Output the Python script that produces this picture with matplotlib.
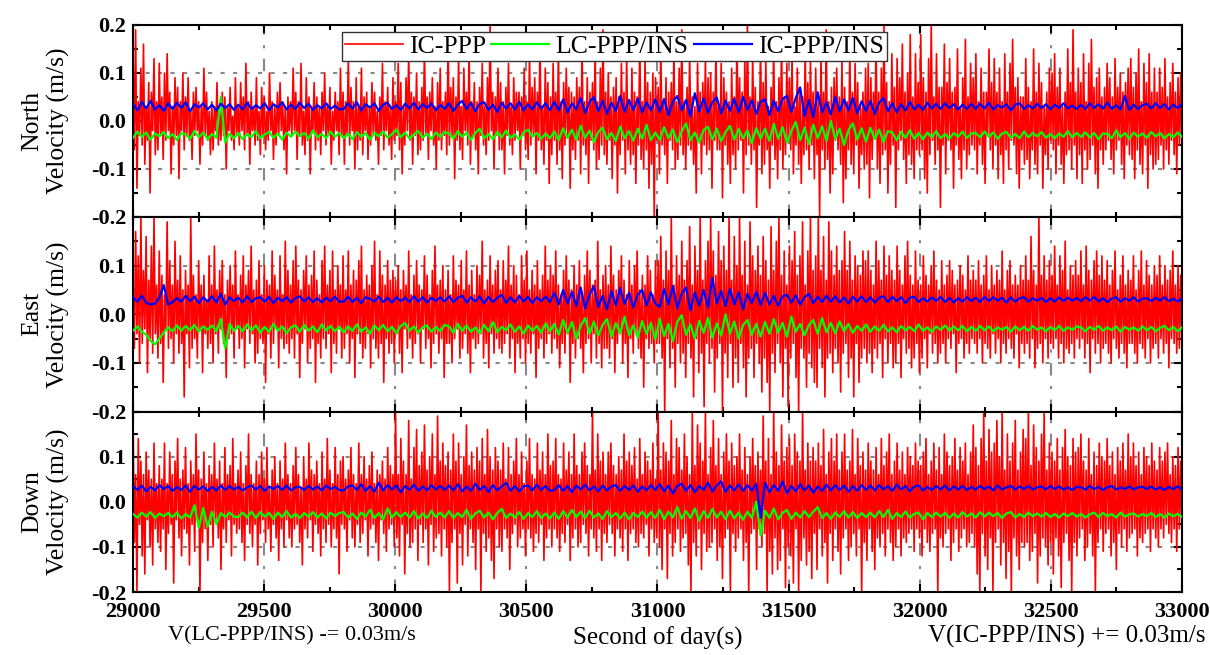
import numpy as np
import matplotlib
matplotlib.use("Agg")
import matplotlib.pyplot as plt
from matplotlib.ticker import MultipleLocator

plt.rcParams['font.family'] = ['Liberation Serif', 'DejaVu Serif']

# Time span (second of day)
T_START, T_END = 29000, 33000

# IC-PPP velocity error (cm/s), 200 s per row
north_ic = [
    15, -6, 19, -14, 4, -3, 11, -5, 16, -9, 3, -4, 8, -15, 6, -2, 13, -7, 4, -6, 12, -3, 5, -8, 10, -4, 14, -2, 6, -11, 3, -5, 9, -3, 7, -12, 4, -2, 10, -6,
    5, -3, 9, -4, 2, -8, 6, -3, 7, -2, 4, -9, 3, -5, 11, -3, 6, -4, 2, -7, 4, -6, 3, -2, 8, -5, 2, -4, 6, -3, 5, -10, 3, -2, 7, -4, 1, -6, 9, -3,
    3, -5, 8, -2, 5, -6, 12, -3, 4, -9, 6, -2, 3, -5, 9, -4, 2, -7, 7, -3, 5, -6, 2, -4, 10, -2, 4, -8, 3, -5, 6, -3, 8, -2, 4, -6, 3, -11, 5, -2,
    4, -3, 11, -2, 6, -8, 4, -3, 12, -5, 2, -7, 9, -4, 5, -11, 3, -2, 8, -6, 5, -4, 3, -7, 6, -2, 10, -5, 3, -3, 7, -9, 2, -4, 6, -2, 4, -7, 11, -3,
    6, -9, 4, -3, 13, -5, 7, -2, 4, -10, 9, -6, 3, -4, 11, -7, 5, -2, 6, -8, 3, -5, 8, -3, 6, -4, 2, -9, 5, -3, 12, -6, 4, -2, 7, -5, 3, -8, 9, -4,
    4, -3, 12, -6, 8, -11, 3, -5, 9, -2, 14, -4, 6, -9, 5, -3, 10, -7, 4, -6, 7, -4, 15, -3, 5, -8, 6, -2, 9, -5, 3, -10, 8, -4, 11, -6, 4, -3, 6, -7,
    16, -5, 7, -3, 9, -12, 5, -4, 13, -6, 3, -8, 11, -2, 6, -5, 15, -9, 4, -3, 8, -6, 4, -11, 7, -3, 12, -5, 3, -7, 9, -4, 20, -2, 6, -10, 5, -3, 11, -6,
    8, -6, 4, -11, 7, -3, 12, -5, 3, -7, 9, -4, 6, -2, 6, -10, 5, -3, 11, -6, 4, -8, 14, -5, 7, -3, 9, -11, 6, -4, 17, -6, 3, -9, 11, -4, 8, -13, 5, -7,
    12, -4, 6, -9, 15, -6, 4, -12, 8, -5, 11, -3, 7, -14, 6, -6, 5, -8, 9, -4, 7, -11, 16, -5, 4, -7, 9, -13, 6, -4, 8, -6, 15, -10, 4, -8, 11, -5, 19, -7,
    6, -9, 10, -4, 5, -12, 7, -5, 9, -15, 5, -7, 12, -4, 6, -11, 14, -6, 4, -9, 11, -7, 6, -13, 5, -5, 17, -8, 4, -10, 13, -6, 8, -14, 6, -9, 10, -20, 9, -4,
    7, -11, 16, -5, 4, -7, 9, -13, 6, -4, 8, -6, 15, -10, 4, -8, 11, -5, 19, -7, 4, -10, 7, -5, 14, -6, 5, -9, 3, -15, 12, -4, 6, -11, 8, -5, 13, -7, 9, -6,
    10, -14, 6, -4, 15, -6, 3, -6, 12, -16, 9, -5, 6, -9, 4, -13, 11, -7, 5, -10, 18, -6, 9, -4, 6, -15, 13, -7, 20, -5, 5, -9, 14, -6, 7, -18, 4, -5, 16, -11,
    8, -9, 13, -6, 3, -14, 7, -5, 15, -8, 4, -12, 9, -6, 17, -10, 5, -7, 12, -4, 9, -6, 14, -11, 3, -5, 11, -9, 6, -13, 5, -7, 15, -6, 8, -10, 13, -5, 6, -12,
    11, -7, 5, -20, 14, -6, 6, -10, 19, -8, 4, -15, 7, -11, 9, -4, 11, -6, 5, -9, 13, -17, 7, -12, 4, -6, 15, -9, 6, -11, 12, -5, 8, -14, 3, -7, 6, -10, 11, -9,
    12, -16, 9, -8, 6, -3, 17, -10, 6, -13, 11, -7, 20, -6, 8, -15, 4, -9, 14, -5, 7, -18, 13, -6, 9, -4, 16, -8, 6, -13, 10, -7, 18, -9, 5, -12, 14, -6, 8, -7,
    18, -6, 9, -12, 6, -15, 13, -7, 20, -4, 5, -9, 14, -6, 7, -18, 7, -5, 16, -11, 8, -4, 13, -6, 6, -14, 7, -5, 15, -8, 3, -12, 9, -6, 17, -10, 5, -7, 12, -5,
    9, -6, 14, -11, 4, -5, 11, -9, 6, -13, 6, -3, 15, -6, 8, -10, 13, -5, 6, -12, 11, -7, 4, -13, 14, -6, 6, -10, 12, -4, 17, -5, 7, -11, 9, -14, 5, -6, 5, -9,
    13, -8, 7, -12, 4, -6, 15, -9, 6, -11, 12, -5, 8, -14, 3, -7, 6, -10, 11, -4, 10, -6, 14, -11, 7, -5, 11, -9, 3, -13, 6, -7, 15, -6, 8, -10, 19, -5, 6, -12,
    11, -7, 8, -13, 14, -6, 4, -10, 12, -8, 17, -5, 7, -11, 9, -14, 11, -6, 5, -9, 7, -6, 12, -4, 9, -8, 5, -11, 13, -6, 7, -4, 10, -9, 6, -12, 8, -5, 11, -7,
    13, -8, 7, -12, 10, -6, 15, -9, 4, -11, 12, -5, 8, -14, 14, -7, 6, -10, 11, -9, 6, -8, 11, -5, 7, -10, 13, -6, 5, -9, 8, -4, 12, -7, 6, -11, 9, -5, 10, -7,
]
east_ic = [
    5, -7, 17, -4, 12, -10, 20, -6, 9, -3, 16, -12, 7, -5, 14, -8, 20, -4, 6, -9, 13, -6, 8, -14, 4, -3, 19, -7, 11, -5, 6, -10, 15, -4, 7, -8, 12, -6, 5, -17,
    9, -4, 6, -11, 20, -7, 8, -5, 4, -9, 11, -3, 6, -12, 8, -4, 3, -7, 12, -6, 6, -10, 14, -4, 5, -8, 9, -3, 11, -6, 4, -13, 7, -5, 10, -4, 6, -9, 13, -3,
    4, -7, 8, -5, 12, -11, 6, -3, 9, -6, 14, -4, 5, -10, 7, -8, 11, -5, 4, -6, 10, -14, 7, -4, 6, -9, 13, -6, 8, -3, 5, -11, 12, -5, 4, -7, 15, -6, 9, -8,
    6, -5, 11, -9, 14, -4, 7, -13, 5, -6, 9, -3, 12, -10, 6, -7, 8, -5, 13, -14, 7, -6, 4, -9, 11, -5, 14, -7, 6, -4, 9, -12, 13, -6, 5, -8, 10, -3, 6, -9,
    12, -7, 5, -4, 13, -10, 6, -5, 9, -13, 7, -4, 11, -6, 14, -9, 5, -7, 8, -4, 6, -11, 10, -5, 15, -7, 4, -9, 13, -6, 8, -14, 6, -5, 11, -8, 7, -6, 9, -10,
    7, -4, 10, -8, 5, -12, 9, -3, 6, -7, 13, -5, 4, -9, 8, -6, 11, -4, 6, -10, 5, -3, 12, -7, 8, -5, 4, -11, 9, -6, 14, -4, 6, -8, 7, -5, 10, -13, 5, -6,
    9, -6, 4, -10, 12, -5, 7, -3, 6, -9, 11, -7, 5, -4, 13, -8, 6, -12, 9, -5, 4, -7, 10, -6, 8, -4, 15, -9, 5, -6, 7, -11, 12, -4, 6, -8, 9, -5, 11, -7,
    5, -8, 11, -6, 7, -4, 14, -9, 6, -5, 10, -12, 8, -6, 4, -9, 12, -5, 7, -10, 13, -6, 5, -8, 9, -4, 6, -13, 11, -7, 5, -5, 8, -9, 14, -6, 7, -4, 10, -8,
    8, -5, 13, -7, 6, -11, 4, -6, 9, -8, 12, -4, 7, -14, 5, -6, 10, -9, 6, -5, 11, -7, 4, -12, 8, -6, 13, -5, 9, -10, 6, -4, 7, -9, 15, -6, 5, -11, 8, -7,
    10, -7, 6, -9, 14, -5, 8, -12, 5, -6, 9, -4, 12, -10, 7, -6, 4, -13, 11, -5, 6, -8, 10, -4, 13, -7, 5, -9, 8, -15, 6, -5, 12, -7, 9, -6, 4, -10, 11, -6,
    11, -6, 16, -9, 7, -20, 13, -5, 9, -11, 20, -7, 6, -15, 12, -6, 8, -10, 15, -8, 7, -13, 11, -6, 18, -9, 6, -17, 14, -5, 9, -12, 20, -8, 7, -19, 11, -6, 15, -10,
    20, -7, 13, -16, 8, -9, 17, -6, 11, -20, 14, -8, 9, -13, 20, -6, 7, -15, 16, -9, 10, -14, 20, -6, 8, -11, 15, -17, 6, -9, 19, -7, 12, -13, 9, -6, 14, -10, 8, -16,
    16, -9, 11, -14, 7, -20, 18, -8, 9, -12, 15, -6, 20, -10, 8, -17, 13, -7, 6, -19, 14, -9, 11, -6, 17, -13, 8, -20, 12, -7, 19, -9, 6, -15, 13, -8, 20, -11, 9, -14,
    12, -15, 20, -7, 9, -11, 16, -17, 7, -9, 19, -8, 13, -12, 8, -7, 14, -10, 9, -16, 11, -8, 17, -6, 9, -13, 15, -9, 7, -17, 12, -6, 10, -14, 8, -9, 13, -7, 11, -10,
    13, -8, 9, -12, 6, -7, 15, -9, 11, -6, 7, -13, 14, -5, 8, -10, 12, -6, 9, -11, 7, -10, 14, -6, 9, -13, 6, -5, 12, -8, 15, -7, 8, -11, 6, -9, 13, -6, 7, -12,
    6, -9, 12, -5, 8, -11, 6, -4, 10, -8, 13, -6, 7, -10, 5, -8, 11, -6, 6, -10, 8, -5, 11, -7, 9, -4, 6, -12, 7, -6, 10, -5, 8, -9, 5, -6, 12, -8, 7, -5,
    9, -6, 7, -8, 11, -5, 6, -10, 8, -6, 12, -7, 5, -9, 10, -4, 6, -8, 9, -5, 7, -10, 13, -6, 5, -8, 9, -5, 11, -7, 6, -9, 8, -4, 6, -11, 10, -6, 7, -8,
    12, -6, 7, -9, 16, -5, 9, -11, 6, -7, 20, -6, 8, -10, 12, -5, 7, -9, 11, -6, 8, -7, 14, -5, 6, -9, 12, -6, 9, -10, 15, -7, 5, -8, 10, -6, 8, -9, 11, -5,
    8, -7, 13, -5, 6, -9, 14, -6, 9, -12, 7, -5, 11, -8, 13, -6, 8, -10, 12, -7, 7, -6, 11, -8, 6, -10, 9, -5, 13, -7, 5, -9, 8, -6, 12, -8, 6, -11, 9, -6,
    7, -6, 12, -8, 5, -10, 9, -6, 13, -7, 6, -9, 11, -5, 8, -10, 6, -7, 10, -6, 8, -9, 12, -5, 6, -8, 10, -6, 7, -11, 9, -5, 13, -6, 6, -8, 10, -7, 8, -6,
]
down_ic = [
    20, -9, 6, -20, 14, -5, 9, -12, 6, -16, 11, -4, 7, -10, 5, -14, 13, -6, 4, -9, 8, -11, 5, -6, 13, -15, 4, -7, 11, -5, 6, -18, 9, -4, 14, -8, 5, -12, 7, -6,
    12, -7, 4, -14, 9, -5, 6, -11, 15, -4, 7, -20, 5, -9, 11, -6, 4, -13, 8, -5, 6, -10, 13, -4, 5, -8, 9, -15, 4, -6, 12, -9, 6, -4, 8, -12, 14, -5, 4, -7,
    7, -6, 11, -9, 4, -13, 8, -5, 15, -7, 6, -10, 4, -5, 9, -14, 6, -7, 11, -4, 5, -9, 12, -6, 3, -11, 7, -5, 10, -8, 4, -13, 9, -6, 5, -10, 13, -4, 6, -8,
    4, -10, 8, -6, 12, -5, 6, -9, 3, -14, 10, -6, 5, -8, 13, -4, 7, -11, 6, -5, 9, -7, 4, -12, 11, -6, 5, -9, 14, -5, 7, -10, 4, -6, 12, -8, 6, -16, 9, -5,
    10, -6, 5, -11, 7, -4, 12, -8, 6, -10, 4, -5, 13, -9, 6, -7, 10, -4, 5, -12, 8, -6, 11, -5, 4, -9, 7, -13, 6, -4, 9, -7, 5, -11, 12, -6, 8, -5, 6, -10,
    20, -8, 6, -12, 14, -5, 9, -16, 6, -7, 18, -10, 5, -9, 12, -6, 16, -13, 8, -5, 11, -9, 17, -6, 7, -14, 10, -5, 15, -11, 6, -8, 19, -7, 9, -12, 13, -6, 8, -10,
    11, -20, 7, -9, 15, -6, 9, -18, 13, -7, 6, -14, 10, -5, 17, -12, 8, -6, 11, -9, 7, -15, 12, -6, 9, -20, 14, -7, 6, -11, 16, -8, 10, -13, 7, -17, 12, -6, 9, -10,
    7, -11, 13, -6, 5, -8, 12, -15, 6, -7, 9, -5, 14, -10, 6, -8, 11, -6, 4, -12, 9, -6, 14, -8, 6, -11, 5, -7, 13, -9, 7, -5, 11, -13, 6, -8, 15, -6, 8, -10,
    9, -6, 14, -8, 6, -11, 5, -7, 13, -9, 7, -5, 11, -13, 6, -8, 15, -6, 8, -10, 6, -9, 11, -5, 13, -7, 8, -12, 6, -6, 20, -8, 7, -11, 15, -6, 9, -13, 11, -7,
    6, -9, 11, -5, 13, -7, 8, -12, 6, -6, 10, -8, 7, -11, 15, -6, 9, -13, 11, -7, 8, -6, 12, -9, 5, -10, 14, -7, 6, -8, 11, -5, 9, -12, 7, -6, 13, -9, 5, -8,
    20, -10, 7, -15, 13, -6, 11, -17, 9, -7, 18, -12, 6, -9, 14, -6, 12, -11, 7, -8, 15, -7, 10, -14, 6, -20, 20, -9, 8, -12, 17, -6, 13, -15, 9, -7, 20, -11, 6, -10,
    12, -9, 18, -6, 8, -13, 14, -10, 6, -17, 11, -8, 15, -6, 9, -20, 13, -7, 8, -11, 10, -8, 15, -6, 7, -13, 12, -9, 6, -20, 10, -7, 14, -6, 8, -15, 11, -6, 7, -10,
    19, -7, 9, -20, 14, -11, 6, -16, 20, -8, 11, -15, 8, -13, 17, -6, 9, -19, 12, -10, 14, -12, 8, -18, 15, -6, 11, -20, 9, -13, 20, -8, 7, -14, 13, -11, 9, -17, 12, -7,
    9, -15, 13, -6, 8, -12, 16, -9, 6, -18, 11, -7, 14, -13, 9, -6, 15, -11, 7, -16, 11, -8, 15, -6, 7, -13, 9, -10, 16, -7, 6, -12, 14, -6, 8, -20, 11, -9, 7, -13,
    13, -6, 9, -11, 7, -15, 12, -8, 6, -10, 14, -7, 8, -12, 11, -6, 15, -9, 6, -13, 9, -10, 13, -6, 7, -12, 11, -8, 6, -9, 12, -7, 10, -6, 8, -11, 13, -6, 9, -8,
    8, -12, 11, -6, 14, -9, 6, -11, 9, -7, 13, -6, 7, -20, 12, -8, 6, -10, 15, -7, 11, -6, 8, -13, 10, -9, 14, -6, 7, -11, 12, -8, 9, -6, 13, -10, 6, -9, 11, -7,
    17, -10, 12, -16, 8, -20, 14, -7, 20, -12, 9, -15, 16, -8, 11, -20, 13, -9, 18, -6, 10, -14, 20, -9, 7, -17, 15, -11, 9, -20, 13, -8, 18, -12, 7, -15, 11, -9, 16, -10,
    14, -9, 20, -13, 8, -11, 17, -7, 12, -18, 9, -12, 15, -8, 20, -10, 7, -14, 13, -9, 11, -16, 9, -8, 14, -12, 7, -19, 12, -9, 16, -7, 10, -13, 8, -20, 14, -9, 11, -12,
    12, -8, 15, -6, 9, -13, 7, -10, 14, -7, 6, -12, 11, -20, 8, -9, 13, -6, 10, -11, 9, -7, 14, -6, 8, -12, 11, -9, 6, -15, 12, -7, 9, -10, 13, -6, 7, -11, 15, -8,
    10, -7, 13, -6, 8, -12, 11, -8, 6, -9, 12, -7, 10, -6, 8, -11, 13, -6, 9, -8, 7, -10, 12, -6, 9, -8, 11, -5, 13, -7, 6, -9, 10, -6, 8, -11, 12, -6, 9, -7,
]

# LC-PPP/INS velocity error (mm/s), 400 s per row
north_lc = [
    -5, 8, -3, 6, -9, 4, -2, 7, -6, 3, -10, 5, 2, -7, 9, -4, 6, -8, 3, -5, 80, -15, 4, -6,
    5, -8, 3, -4, 9, -6, 2, 7, -5, 4, -9, 6, -3, 8, -2, 5, -7, 10, -4, 3, -6, 8, -3, 5,
    -6, 4, -8, 7, -3, 5, -9, 6, -2, 8, -5, 3, 12, -4, 6, -7, 2, 9, -5, 4, -8, 6, -3, 7,
    4, -7, 9, -3, 6, -10, 5, 14, -6, 3, -8, 7, -4, 10, -5, 2, -9, 6, 12, -3, 5, -7, 4, -6,
    8, -10, 15, -6, 12, -9, 20, -5, 10, -14, 7, 16, -8, 5, -12, 18, -6, 9, -11, 14, -7, 22, -10, 6,
    -9, 17, -6, 12, -14, 8, 25, -10, 6, -15, 11, 18, -8, 14, -12, 7, 20, -9, 13, -6, 10, -16, 15, -7,
    14, -11, 24, -7, 17, -15, 9, 28, -10, 16, -18, 22, -6, 19, -12, 30, -8, 14, -20, 11, 25, -9, 15, -13,
    16, -8, 12, -14, 9, 6, -10, 8, -5, 11, -7, 5, -8, 6, -4, 9, -6, 3, -7, 5, -3, 8, -5, 4,
    5, -4, 8, -3, 6, -7, 4, 7, -5, 3, -6, 8, -4, 5, -2, 7, -5, 3, -6, 4, -3, 9, -4, 5,
    -3, 6, -4, 5, -8, 4, 3, -6, 10, -4, 5, -7, 6, -3, 4, -5, 7, -2, 5, -6, 3, -4, 6, -3,
]
east_lc = [
    -4, 5, -6, -12, -25, -32, -20, -8, 3, -5, 7, -4, 6, -3, 8, -6, 5, -2, 7, -5, 20, -40, 10, -4,
    6, -5, 9, -3, 7, -8, 4, -6, 10, -4, 5, -9, 3, 7, -6, 8, -4, 5, -7, 9, -3, 6, -5, 4,
    -7, 5, -4, 9, -6, 3, -10, 7, -3, 8, -5, 4, -9, 6, 12, -4, 5, -8, 3, 7, -6, 4, -5, 8,
    5, -8, 10, -4, 7, -6, 3, -9, 8, -5, 14, -7, 4, -3, 9, -6, 5, -10, 7, -4, 6, -8, 11, -5,
    10, -12, 18, -8, 14, -20, 6, 22, -10, 15, -14, 8, 20, -16, 12, -9, 25, -13, 7, -18, 16, -10, 12, -22,
    20, -15, 10, -25, 14, 28, -12, 9, -20, 16, -8, 22, -18, 11, -14, 30, -10, 15, -20, 8, 18, -12, 10, -16,
    14, -10, 20, -8, 12, -16, 25, -6, 10, -13, 8, 18, -10, 22, -7, 12, -9, 15, -5, 10, -8, 6, -4, 9,
    -6, 5, -4, 8, -5, 3, -7, 6, -3, 4, -5, 9, -4, 3, -6, 5, -2, 7, -4, 5, -3, 6, -5, 4,
    -4, 6, -3, 5, -5, 3, -2, 4, -6, 5, -3, 4, -4, 6, -2, 3, -5, 4, -3, 6, -4, 3, -2, 5,
    3, -5, 4, -2, 6, -4, 3, -3, 5, -6, 4, -2, 3, -4, 5, -3, 4, -5, 2, 6, -3, 4, -5, 3,
]
down_lc = [
    3, -5, 6, -3, 7, -6, 4, -2, 5, -4, 6, -7, 3, -5, 22, -28, 16, -25, 8, -20, 5, -4, 6, -3,
    -4, 6, -5, 8, -6, 7, -3, 5, -8, 6, -4, 9, -5, 3, -6, 5, -3, 7, -5, 4, -7, 6, -2, 5,
    7, -5, 4, -8, 6, -3, 12, -6, 5, -9, 15, -5, 7, -4, 6, -5, 9, -7, 4, -6, 10, -4, 6, -5,
    9, -6, 5, -4, 12, -8, 4, 10, -5, 6, -9, 5, 14, -6, 4, -5, 7, -8, 5, -4, 9, -6, 4, -7,
    6, -8, 9, -5, 12, -4, 8, -6, 10, -5, 4, -8, 9, -4, 5, -7, 6, -9, 5, -4, 8, -5, 7, -6,
    12, -9, 8, -5, 18, -8, 9, -6, 15, -12, 9, -6, 14, -5, 8, -9, 10, -7, 6, -10, 8, -6, 30, -45,
    10, -6, 15, -9, 5, 12, -8, 6, -5, 9, -4, 8, 18, -6, 5, -8, 6, -4, 9, -5, 7, -6, 5, -4,
    6, -5, 9, -4, 12, -8, 5, -4, 8, -5, 3, 6, -9, 5, -4, 6, -3, 5, -6, 4, -5, 7, -3, 4,
    -5, 7, -3, 6, -2, 5, -6, 4, 7, -5, 3, -4, 6, -2, 4, -3, 5, -4, 3, -5, 4, -2, 5, -3,
    3, -5, 2, 6, -4, 5, -2, 3, -5, 6, -3, 2, 4, -3, 3, -2, 5, -4, 3, -5, 4, -2, 3, -4,
]

# IC-PPP/INS velocity error (mm/s), 400 s per row
north_icins = [
    6, -8, 10, -4, 12, -6, 3, -9, 7, -5, 8, -3, 9, -10, 5, -2, 7, -6, 4, -8, 6, -3, 5, -7,
    4, -6, 8, -5, 3, -4, 7, -8, 5, -2, 9, -6, 4, -5, 8, -3, 6, -7, 3, -4, 7, -5, 2, -6,
    -5, 7, -4, 9, -8, 5, -2, 7, -9, 4, 8, -5, 3, -7, 6, -4, 8, -6, 5, -3, 7, -8, 4, -5,
    7, -9, 4, 12, -5, 8, -10, 6, 9, -7, 4, -11, 8, -4, 7, -6, 10, -8, 5, -6, 9, -4, 7, -8,
    10, -8, 15, -12, 7, -6, 18, -13, 9, 20, -10, 12, -15, 8, -9, 22, -11, 14, -7, 17, -12, 9, -8, 15,
    -11, 16, -18, 10, 22, -8, 14, -20, 28, -10, 17, -13, 9, 19, -14, 12, -9, 16, -12, 20, -7, 13, -15, 10,
    15, -18, 12, -10, 16, 22, -11, 18, 40, -20, 14, -22, 30, -12, 9, -16, 20, -10, 15, -8, 18, -14, 11, -9,
    12, -15, 8, 18, -10, 7, -12, 5, -8, 10, -6, 4, -7, 8, -4, 6, -5, 7, -3, 5, -6, 4, -5, 6,
    -5, 6, -4, 8, -6, 3, -2, 5, -8, 4, 7, -5, 3, -4, 6, -3, 5, -6, 4, -3, 7, -4, 2, -5,
    4, -5, 7, -3, 5, -4, 8, -5, 3, -6, 22, -7, 4, -5, 3, 6, -4, 7, -3, 5, -6, 4, -3, 6,
]
east_icins = [
    5, -4, 8, -6, -10, -8, 4, 30, -10, -5, 3, -4, 8, -3, 6, -7, 5, -4, 7, -6, 12, -10, 5, -3,
    4, -6, 7, -5, 3, 5, -4, 6, -7, 4, -3, 5, -6, 3, 7, -4, 5, -5, 3, -6, 4, -3, 6, -4,
    -4, 6, -5, 4, -7, 5, 2, -4, 6, -5, 4, -6, 5, -3, 4, -5, 7, -4, 5, -6, 4, -3, 5, -4,
    7, -5, 4, 8, -6, 5, -4, 7, -8, 6, -5, 4, 10, -7, 5, -6, 8, -4, 6, -7, 5, -3, 6, -5,
    14, -10, 20, -8, 16, -13, 25, -18, 10, 28, -15, 8, -20, 18, -12, 24, -9, 14, -16, 10, 20, -12, 15, -8,
    -15, 22, -10, 28, -18, 12, 25, -22, 15, -12, 20, -16, 45, -8, 18, -13, 22, -10, 15, -20, 12, -7, 16, -11,
    14, -10, 8, -13, 7, 10, -6, 9, -10, 5, 12, -7, 6, -5, 8, -4, 7, -6, 5, -8, 6, -4, 7, -5,
    5, -6, 4, 7, -5, 6, -3, 5, -7, 4, 6, -5, 3, -4, 5, -3, 6, -5, 4, -6, 3, -4, 5, -3,
    4, -5, 6, -3, 5, -2, 4, -6, 5, -4, 3, 5, -4, 3, -2, 4, -5, 3, -4, 5, -3, 4, -2, 3,
    -3, 5, -2, 6, -4, 3, -5, 2, 5, -4, 3, -2, 5, -4, 2, 3, -3, 4, -2, 5, -3, 2, -4, 3,
]
down_icins = [
    5, -4, 6, -7, 3, -5, 7, -2, 5, -6, 3, -4, 6, -8, 5, -3, 4, -6, 3, -5, 6, -4, 5, -3,
    3, -5, 2, 6, -3, 5, -6, 4, -2, 5, -4, 6, -5, 2, 3, -4, 5, -3, 4, -5, 6, -2, 3, -4,
    -5, 4, 6, -4, 9, -6, 5, -8, 12, -5, 7, -3, 6, -9, 5, -4, 8, -6, 4, -5, 7, -3, 5, -4,
    6, -5, 9, -7, 4, -6, 10, -4, 5, -9, 7, -5, 4, 12, -6, 5, -7, 4, 6, -5, 8, -4, 5, -6,
    -4, 7, -6, 5, -9, 6, -3, 8, -5, 4, -7, 6, -5, 4, 7, -6, 5, -4, 6, -8, 4, -5, 7, -4,
    9, -7, 6, -12, 5, 10, -6, 7, -9, 5, -4, 12, -7, 6, 15, -8, 6, -5, 9, -6, 7, -5, 10, -65,
    12, -9, 7, -6, 15, -11, 5, -7, 9, -5, 6, -10, 4, -6, 8, -5, 7, -4, 6, -8, 5, -6, 7, -4,
    6, -5, 7, -3, 5, -6, 8, -3, 5, -7, 4, 6, -5, 3, -4, 5, -3, 6, -5, 4, -3, 5, -4, 3,
    -3, 5, -2, 4, -5, 6, -3, 2, 5, -3, 4, -2, 5, -3, 2, 4, -3, 5, -2, 4, -3, 2, -4, 3,
    2, -3, 5, -2, 3, -4, 2, 5, -3, 2, -2, 4, -3, 2, 3, -2, 4, -3, 2, -4, 3, -2, 4, -3,
]

panel_names = ["North", "East", "Down"]
ic_series = [north_ic, east_ic, down_ic]
lc_series = [north_lc, east_lc, down_lc]
icins_series = [north_icins, east_icins, down_icins]
shift = 0.03  # display offset for the two INS solutions

# axes boxes in pixels (left, top, right, bottom) on a 1210x655 canvas
W, H = 1210, 655
boxes = [(133, 25, 1182, 217), (133, 217, 1182, 411.5), (133, 411.5, 1182, 592)]

fig = plt.figure(figsize=(W / 100, H / 100), dpi=100)
axes = []
for i, (l, t, r, b) in enumerate(boxes):
    ax = fig.add_axes([l / W, 1 - b / H, (r - l) / W, (b - t) / H])
    axes.append(ax)

    ic = np.array(ic_series[i]) / 100.0
    lc = np.array(lc_series[i]) / 1000.0 - shift
    icins = np.array(icins_series[i]) / 1000.0 + shift
    t_ic = np.linspace(T_START, T_END, len(ic))
    t_lc = np.linspace(T_START, T_END, len(lc))
    t_icins = np.linspace(T_START, T_END, len(icins))

    ax.plot(t_ic, ic, color="#ff0000", lw=1.2, label="IC-PPP", zorder=2)
    ax.plot(t_lc, lc, color="#00ff00", lw=1.6, label="LC-PPP/INS", zorder=3)
    ax.plot(t_icins, icins, color="#0000ff", lw=1.6, label="IC-PPP/INS", zorder=4)

    ax.set_xlim(T_START, T_END)
    ax.set_ylim(-0.2, 0.2)
    ax.xaxis.set_major_locator(MultipleLocator(500))
    ax.xaxis.set_minor_locator(MultipleLocator(250))
    ax.yaxis.set_major_locator(MultipleLocator(0.1))
    ax.yaxis.set_minor_locator(MultipleLocator(0.05))
    ax.grid(axis="x", color="#888888", lw=1.5, ls=(0, (6, 5, 1.5, 5)), zorder=0)
    ax.grid(axis="y", color="#888888", lw=1.5, ls=(0, (2, 4)), zorder=0)
    ax.tick_params(which="both", direction="in", top=True, right=True, width=1.5)
    ax.tick_params(which="major", length=6, labelsize=16, pad=5)
    ax.tick_params(axis="x", which="major", pad=7)
    ax.tick_params(which="minor", length=3.5)
    for s in ax.spines.values():
        s.set_linewidth(1.5)

    yt = [-0.2, -0.1, 0.0, 0.1, 0.2]
    ylabs = ["-0.2", "-0.1", "0.0", "0.1", "0.2" if i == 0 else ""]
    ax.set_yticks(yt)
    ax.set_yticklabels(ylabs, fontweight="bold")
    if i < 2:
        ax.set_xticklabels([])
    else:
        ax.set_xticks(range(T_START, T_END + 1, 500))
        ax.set_xticklabels([str(v) for v in range(T_START, T_END + 1, 500)], fontweight="bold")

    ax.set_ylabel(panel_names[i] + "\nVelocity (m/s)", fontsize=18.5, linespacing=1.2)
    ax.yaxis.set_label_coords(-0.06, 0.5)

leg = axes[0].legend(loc="upper center", bbox_to_anchor=(0.459, 0.966), ncol=3,
                     fontsize=18.5, handlelength=2.25, handletextpad=0.25, columnspacing=0.2,
                     borderpad=0.12, borderaxespad=0, fancybox=False, framealpha=1,
                     edgecolor="#333333")
leg.get_frame().set_linewidth(1.0)
leg.set_zorder(10)

fig.text(658 / W, 1 - 638 / H, "Second of day(s)", ha="center", va="center", fontsize=18)
fig.text(168 / W, 1 - 636 / H, "V(LC-PPP/INS) -= 0.03m/s", ha="left", va="center", fontsize=16)
fig.text(1205 / W, 1 - 636 / H, "V(IC-PPP/INS) += 0.03m/s", ha="right", va="center", fontsize=18)

fig.savefig("out.png", dpi=100)
